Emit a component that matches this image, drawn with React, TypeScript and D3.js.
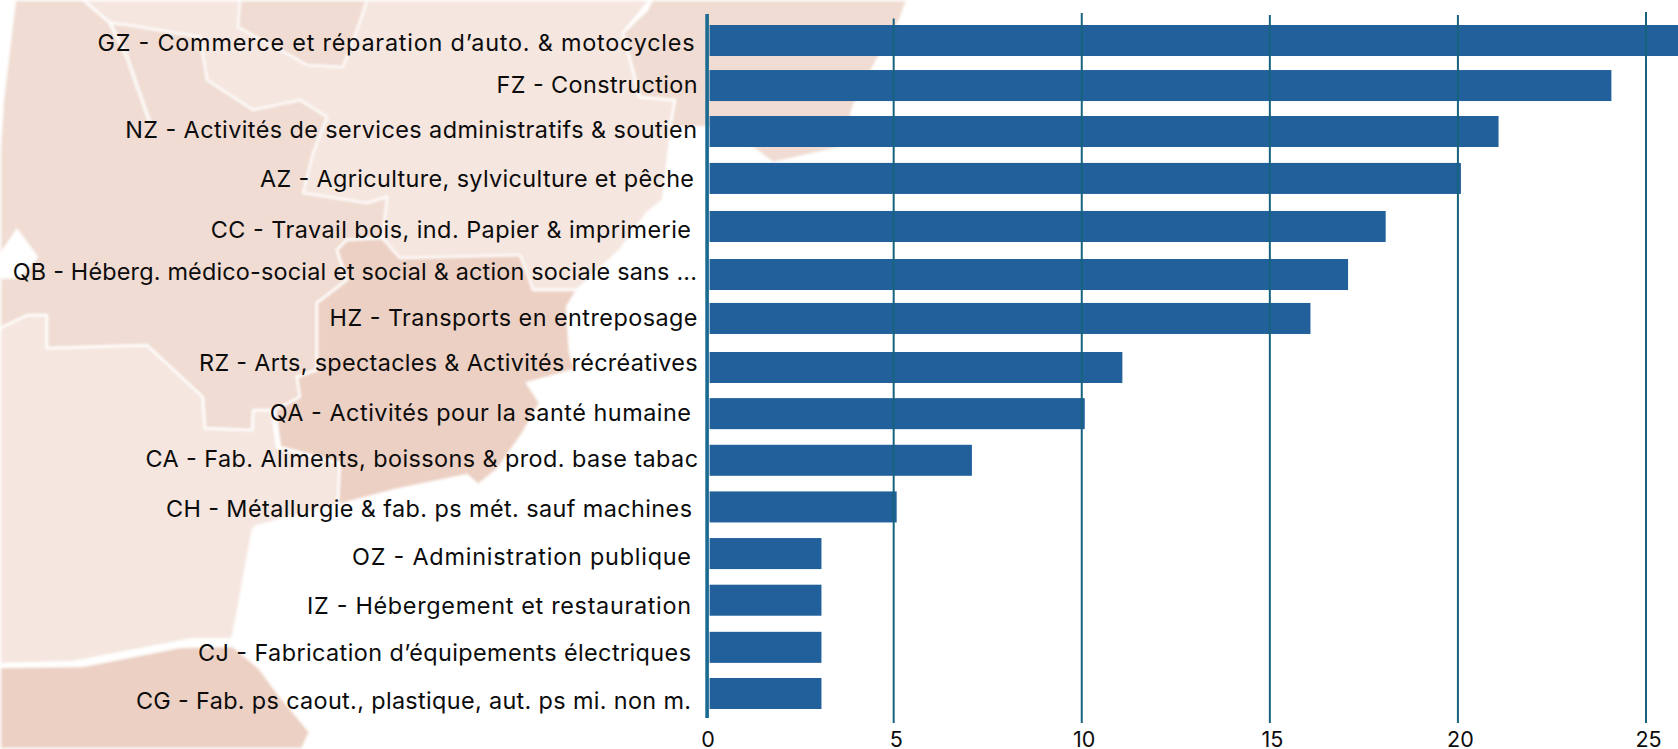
import React from "react";
import * as d3 from "d3";

// ---- data ----
const categories = [
  "GZ - Commerce et réparation d’auto. & motocycles",
  "FZ - Construction",
  "NZ - Activités de services administratifs & soutien",
  "AZ - Agriculture, sylviculture et pêche",
  "CC - Travail bois, ind. Papier & imprimerie",
  "QB - Héberg. médico-social et social & action sociale sans ...",
  "HZ - Transports en entreposage",
  "RZ - Arts, spectacles & Activités récréatives",
  "QA - Activités pour la santé humaine",
  "CA - Fab. Aliments, boissons & prod. base tabac",
  "CH - Métallurgie & fab. ps mét. sauf machines",
  "OZ - Administration publique",
  "IZ - Hébergement et restauration",
  "CJ - Fabrication d’équipements électriques",
  "CG - Fab. ps caout., plastique, aut. ps mi. non m.",
];
const values = [26, 24, 21, 20, 18, 17, 16, 11, 10, 7, 5, 3, 3, 3, 3];

// ---- background map (decorative regions) ----
type Pt = [number, number];
const regionUpperLight: Pt[] = [[83,0],[650,0],[623,33],[633,70],[640,97],[675,100],[670,140],[663,200],[647,213],[620,250],[577,290],[400,290],[300,250],[110,100],[110,23]];
const regionLowerLight: Pt[] = [[0,328],[27,315],[47,315],[47,348],[147,345],[203,397],[205,428],[252,430],[253,410],[272,410],[277,447],[340,463],[338,505],[257,526],[253,529],[243,582],[237,616],[232,639],[193,639],[177,642],[73,662],[0,664]];
const regionLeft: Pt[] = [[15,0],[83,0],[110,23],[128,25],[200,37],[207,80],[253,110],[300,100],[327,117],[313,153],[303,193],[367,203],[387,197],[383,233],[382,238],[347,240],[337,250],[347,280],[317,303],[317,370],[297,377],[300,397],[275,410],[253,410],[252,430],[205,428],[203,397],[147,345],[47,348],[47,315],[27,315],[0,328],[0,278],[20,277],[37,257],[17,230],[0,255],[0,150],[3,100]];
const regionTopHole: Pt[] = [[240,0],[238,27],[293,57],[307,65],[343,67],[357,30],[367,0]];
const regionTopRight: Pt[] = [[652,0],[907,0],[900,20],[877,60],[853,107],[843,147],[817,153],[773,163],[753,148],[707,127],[670,128],[675,100],[640,97],[633,70],[623,33],[647,10]];
const regionCentre: Pt[] = [[337,250],[347,240],[382,238],[400,258],[520,255],[527,273],[533,290],[577,290],[567,307],[570,353],[575,370],[527,383],[540,403],[523,433],[497,470],[478,485],[467,475],[395,490],[338,505],[340,463],[280,447],[275,410],[300,397],[297,377],[317,370],[317,303],[347,280]];
const regionBottom: Pt[] = [[0,667],[83,666],[180,647],[233,646],[260,669],[280,696],[310,732],[302,749],[0,749]];
const borderLine: Pt[] = [[110,23],[127,57],[150,123]];

// ---- layout ----
const W = 1678;
const H = 749;
const LIGHT = "#f5e6df";
const MID = "#f0dcd2";
const DARK = "#ecd0c3";
const BAR = "#21609b";
const GRID = "#17637f";
const barInset = 4;
const barEndShift = 3;
const rowNudge = [0, -1.6, -2.3, -2, -0.6, 0.8, -1.9, 0.5, 0, 0, 0, 0, 0, 0.5, 0];
const labelStart = [97.4, 496.6, 125.2, 260, 210.8, 12.8, 329.6, 199, 269.7, 145.5, 165.9, 352, 307.1, 198, 135.9];
const labelEnd = [694.6, 697.5, 697, 694, 691, 697, 697.5, 697.5, 691, 698, 692, 691, 691, 691, 691];
const labelMiddle = [43, 85, 130, 179, 230, 272, 318, 363, 413, 459, 509, 557, 606, 653, 701];
const gridTops = [18.5, 13, 15, 15, 12];

const x = d3.scaleLinear().domain([0, 25]).range([705.6, 1646]);
const y = d3.scaleBand<string>().domain(categories).range([25, 709]).paddingInner(0.335).paddingOuter(0);
const line = d3.line<Pt>().x((d) => d[0]).y((d) => d[1]);
const closed = (p: Pt[]) => line(p) + "Z";

const FONT = "Inter, 'Open Sans', sans-serif";

export default function App() {
  const ticks = d3.range(0, 26, 5);
  const regions: [Pt[], string][] = [
    [regionUpperLight, LIGHT],
    [regionLowerLight, LIGHT],
    [regionLeft, MID],
    [regionTopHole, MID],
    [regionTopRight, MID],
    [regionCentre, DARK],
    [regionBottom, DARK],
  ];
  return (
    <svg
      width={W}
      height={H}
      viewBox={`0 0 ${W} ${H}`}
      style={{ position: "fixed", left: 0, top: 0, background: "#fff" }}
    >
      <defs>
        <filter id="soft" x="-5%" y="-5%" width="110%" height="110%">
          <feGaussianBlur stdDeviation="1" />
        </filter>
      </defs>
      <g filter="url(#soft)">
        {regions.map(([p, c], i) => (
          <path key={i} d={closed(p)} fill={c} stroke="#fff" strokeWidth={3} strokeOpacity={0.75} strokeLinejoin="round" />
        ))}
        <path d={line(borderLine) || ""} fill="none" stroke="#fff" strokeWidth={4} strokeOpacity={0.75} />
      </g>

      {categories.map((c, i) => (
        <rect
          key={c}
          x={x(0) + barInset}
          y={(y(c) as number) + rowNudge[i]}
          width={x(values[i]) + barEndShift - x(0) - barInset}
          height={y.bandwidth()}
          fill={BAR}
        />
      ))}

      <line x1={x(0) + 1.5} x2={x(0) + 1.5} y1={14} y2={718} stroke="#1a6a92" strokeWidth={3.6} />
      {ticks.slice(1).map((t, i) => (
        <line key={t} x1={x(t)} x2={x(t)} y1={gridTops[i]} y2={723} stroke={GRID} strokeWidth={2} />
      ))}

      {categories.map((c, i) => (
        <text
          key={c}
          x={labelStart[i]}
          y={labelMiddle[i]}
          dy="0.36em"
          textLength={labelEnd[i] - labelStart[i]}
          lengthAdjust="spacing"
          fontFamily={FONT}
          fontSize={23.4}
          fill="#0c0c0c"
        >
          {c}
        </text>
      ))}

      {ticks.map((t) => (
        <text key={t} x={x(t) + 2.5} y={747} textAnchor="middle" fontFamily={FONT} fontSize={21.5} fill="#0c0c0c">
          {t}
        </text>
      ))}
    </svg>
  );
}
